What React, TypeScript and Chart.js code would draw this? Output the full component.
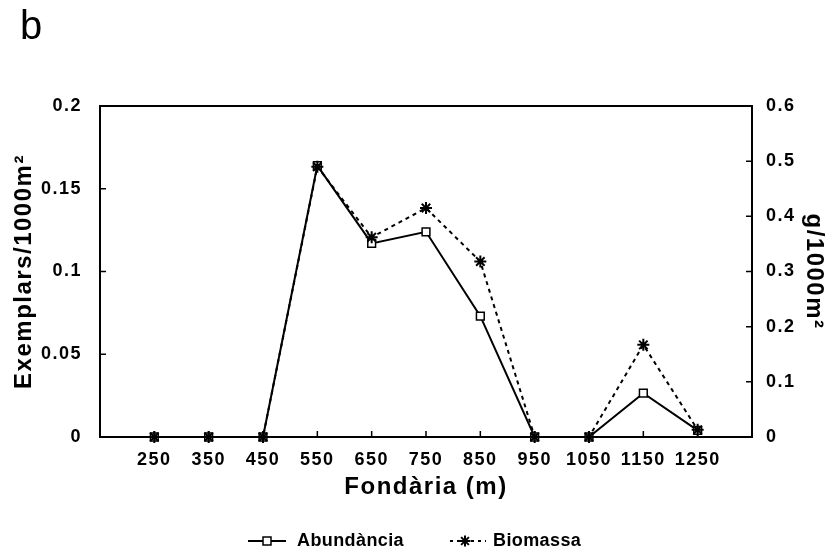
import React, { useEffect, useRef } from 'react';
import { Chart, registerables } from 'chart.js';

Chart.register(...registerables);

// ---- data ----
const depths = [250, 350, 450, 550, 650, 750, 850, 950, 1050, 1150, 1250];
const abundancia = [0, 0, 0, 0.164, 0.117, 0.124, 0.073, 0, 0, 0.0265, 0.004];
const biomassa = [0, 0, 0, 0.49, 0.362, 0.415, 0.318, 0, 0, 0.167, 0.013];
const leftTicks = [0, 0.05, 0.1, 0.15, 0.2];
const leftTickLabels = ['0', '0.05', '0.1', '0.15', '0.2'];
const rightTicks = [0, 0.1, 0.2, 0.3, 0.4, 0.5, 0.6];
const rightTickLabels = ['0', '0.1', '0.2', '0.3', '0.4', '0.5', '0.6'];
const xRange = [150, 1350];
const seriesNames = ['Abundància', 'Biomassa'];
const panelLabel = 'b';
const xTitle = 'Fondària (m)';
const yLeftTitle = 'Exemplars/1000m²';
const yRightTitle = 'g/1000m²';

const FONT = '"Liberation Sans", Arial, Helvetica, sans-serif';

const framePlugin = {
  id: 'frameTicksLegend',
  beforeLayout(chart: any) {
    chart.ctx.letterSpacing = '1.5px';
  },
  beforeDraw(chart: any) {
    const ctx = chart.ctx;
    ctx.save();
    ctx.fillStyle = '#fff';
    ctx.fillRect(0, 0, chart.width, chart.height);
    ctx.restore();
    ctx.letterSpacing = '1.5px';
  },
  beforeDatasetsDraw(chart: any) {
    const ctx = chart.ctx;
    const a = chart.chartArea;
    const tl = 6;
    ctx.save();
    ctx.strokeStyle = '#000';
    ctx.lineWidth = 2;
    ctx.strokeRect(a.left, a.top, a.right - a.left, a.bottom - a.top);
    ctx.lineWidth = 1.5;
    ctx.beginPath();
    const xs = chart.scales.x;
    xs.ticks.forEach((t: any) => {
      const px = xs.getPixelForValue(t.value);
      ctx.moveTo(px, a.bottom);
      ctx.lineTo(px, a.bottom - tl);
    });
    const ys = chart.scales.y;
    ys.ticks.forEach((t: any) => {
      const py = ys.getPixelForValue(t.value);
      ctx.moveTo(a.left, py);
      ctx.lineTo(a.left + tl, py);
    });
    const y1 = chart.scales.y1;
    y1.ticks.forEach((t: any) => {
      const py = y1.getPixelForValue(t.value);
      ctx.moveTo(a.right, py);
      ctx.lineTo(a.right - tl, py);
    });
    ctx.stroke();
    ctx.restore();
  },
  afterDraw(chart: any) {
    const ctx = chart.ctx;
    const a = chart.chartArea;
    const ly = 541;
    const x0 = a.left + 148;
    ctx.save();
    ctx.strokeStyle = '#000';
    ctx.fillStyle = '#000';
    // item 1: solid line + square
    ctx.lineWidth = 2;
    ctx.setLineDash([]);
    ctx.beginPath();
    ctx.moveTo(x0, ly);
    ctx.lineTo(x0 + 38, ly);
    ctx.stroke();
    ctx.fillStyle = '#fff';
    ctx.lineWidth = 1.5;
    ctx.fillRect(x0 + 15, ly - 4, 8, 8);
    ctx.strokeRect(x0 + 15, ly - 4, 8, 8);
    // item 2: dashed line + star
    const x1 = x0 + 202;
    ctx.lineWidth = 2;
    ctx.setLineDash([3, 4]);
    ctx.beginPath();
    ctx.moveTo(x1, ly);
    ctx.lineTo(x1 + 36, ly);
    ctx.stroke();
    ctx.setLineDash([]);
    ctx.lineWidth = 2;
    const sx = x1 + 15;
    const r = 5.5;
    ctx.beginPath();
    for (let k = 0; k < 4; k++) {
      const ang = (k * Math.PI) / 4;
      ctx.moveTo(sx - r * Math.cos(ang), ly - r * Math.sin(ang));
      ctx.lineTo(sx + r * Math.cos(ang), ly + r * Math.sin(ang));
    }
    ctx.stroke();
    // text
    ctx.fillStyle = '#000';
    ctx.letterSpacing = '0.4px';
    ctx.font = `bold 18px ${FONT}`;
    ctx.textBaseline = 'middle';
    ctx.textAlign = 'left';
    const names = chart.data.datasets.map((d: any) => d.label);
    ctx.fillText(names[0], x0 + 49, ly);
    ctx.fillText(names[1], x1 + 43, ly);
    ctx.restore();
  },
};

export default function App() {
  const ref = useRef<HTMLCanvasElement>(null);
  useEffect(() => {
    document.body.style.margin = '0';
    const canvas = ref.current;
    if (!canvas) return;
    Chart.defaults.font.family = FONT;
    Chart.defaults.color = '#000';
    const tickFont = { size: 18, weight: 'bold' as const, family: FONT };
    const titleFont = { size: 24, weight: 'bold' as const, family: FONT };
    const chart = new Chart(canvas, {
      type: 'line',
      data: {
        datasets: [
          {
            label: seriesNames[0],
            data: depths.map((d, i) => ({ x: d, y: abundancia[i] })),
            yAxisID: 'y',
            order: 1,
            borderColor: '#000',
            borderWidth: 2,
            pointStyle: 'rect',
            pointRadius: 5.5,
            pointBackgroundColor: '#fff',
            pointBorderColor: '#000',
            pointBorderWidth: 1.5,
            tension: 0,
            clip: false as any,
          },
          {
            label: seriesNames[1],
            data: depths.map((d, i) => ({ x: d, y: biomassa[i] })),
            yAxisID: 'y1',
            order: 0,
            borderColor: '#000',
            borderWidth: 2,
            borderDash: [4, 4],
            pointStyle: 'star',
            pointRadius: 6,
            pointBackgroundColor: '#000',
            pointBorderColor: '#000',
            pointBorderWidth: 2,
            tension: 0,
            clip: false as any,
          },
        ],
      },
      options: {
        responsive: false,
        animation: false,
        layout: { padding: { left: 20, right: 0, top: 0, bottom: 0 } },
        plugins: {
          legend: { display: false },
          tooltip: { enabled: false },
          title: {
            display: true,
            text: panelLabel,
            align: 'start',
            color: '#000',
            font: { size: 40, weight: 'normal', family: FONT },
            padding: { top: 4, bottom: 54 },
          },
        },
        scales: {
          x: {
            type: 'linear',
            min: xRange[0],
            max: xRange[1],
            grid: { display: false },
            border: { display: false },
            afterBuildTicks: (s: any) => {
              s.ticks = depths.map((v) => ({ value: v }));
            },
            afterFit: (s: any) => {
              s.height = 116;
            },
            ticks: {
              padding: 4,
              autoSkip: false,
              maxRotation: 0,
              color: '#000',
              font: tickFont,
              callback: (v: any) => String(v),
            },
            title: {
              display: true,
              text: xTitle,
              color: '#000',
              font: titleFont,
              padding: { top: 0, bottom: 51 },
            },
          },
          y: {
            type: 'linear',
            position: 'left',
            min: 0,
            max: 0.2,
            grid: { display: false },
            border: { display: false },
            afterBuildTicks: (s: any) => {
              s.ticks = leftTicks.map((v) => ({ value: v }));
            },
            afterFit: (s: any) => {
              s.width = 80;
            },
            ticks: {
              padding: 10,
              color: '#000',
              font: tickFont,
              callback: (v: any) => leftTickLabels[leftTicks.indexOf(v)] ?? String(v),
            },
            title: {
              display: true,
              text: yLeftTitle,
              color: '#000',
              font: titleFont,
              padding: { top: -10, bottom: 0 },
            },
          },
          y1: {
            type: 'linear',
            position: 'right',
            min: 0,
            max: 0.6,
            grid: { display: false },
            border: { display: false },
            afterBuildTicks: (s: any) => {
              s.ticks = rightTicks.map((v) => ({ value: v }));
            },
            afterFit: (s: any) => {
              s.width = 84;
            },
            ticks: {
              padding: 6,
              color: '#000',
              font: tickFont,
              callback: (v: any) => rightTickLabels[rightTicks.indexOf(v)] ?? String(v),
            },
            title: {
              display: true,
              text: yRightTitle,
              color: '#000',
              font: titleFont,
              padding: { top: 8, bottom: 0 },
            },
          },
        },
      } as any,
      plugins: [framePlugin],
    });
    return () => chart.destroy();
  }, []);
  return <canvas ref={ref} width={836} height={553} style={{ display: 'block' }} />;
}
